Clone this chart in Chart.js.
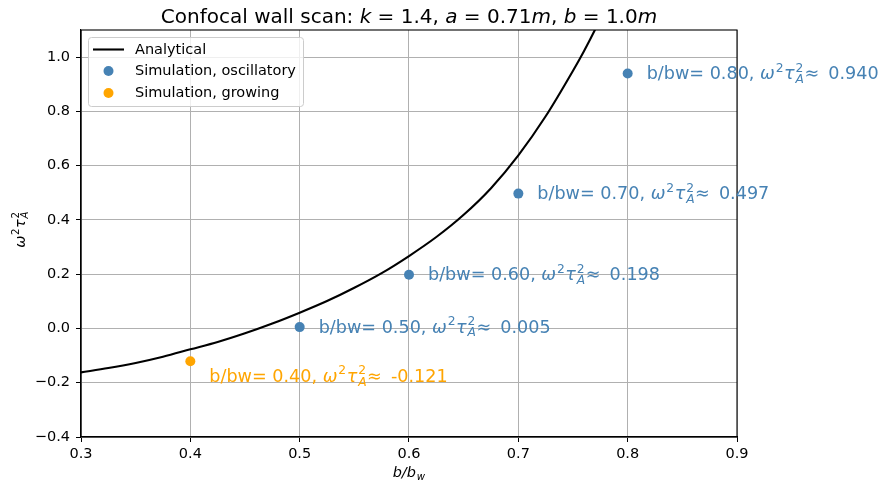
<!DOCTYPE html>
<html>
<head>
<meta charset="utf-8">
<script src="https://cdn.jsdelivr.net/npm/chart.js@4/dist/chart.umd.min.js"></script>
<style>
html,body{margin:0;padding:0;background:#fff;}
#wrap{width:884px;height:488px;position:relative;}
</style>
</head>
<body>
<div id="wrap"><canvas id="c" width="884" height="488"></canvas></div>
<script>
// ---- data ----
const curveX = [0.300,0.325,0.350,0.375,0.400,0.425,0.450,0.475,0.500,0.525,0.550,0.575,0.600,0.625,0.650,0.675,0.700,0.725,0.750,0.760,0.770,0.780];
const curveY = [-0.162,-0.146,-0.127,-0.104,-0.077,-0.050,-0.018,0.018,0.058,0.101,0.150,0.204,0.267,0.337,0.419,0.517,0.638,0.782,0.950,1.022,1.100,1.185];
const oscX = [0.5,0.6,0.7,0.8];
const oscY = [0.005,0.198,0.497,0.940];
const growX = [0.4];
const growY = [-0.121];
const xTicks = [0.3,0.4,0.5,0.6,0.7,0.8,0.9];
const yTicks = [-0.4,-0.2,0.0,0.2,0.4,0.6,0.8,1.0];
const seriesNames = ["Analytical","Simulation, oscillatory","Simulation, growing"];

const BLUE = "#4682B4", ORANGE = "#FFA500";
const FONT = "'DejaVu Sans', 'Liberation Sans', sans-serif";

function pts(xs, ys){ return xs.map((x,i)=>({x:x, y:ys[i]})); }
function fmt(v){ const s = v.toFixed(1); return v < 0 ? "\u2212" + s.slice(1) : s; }
function fmt3(v){ return v.toFixed(3); }

// rich text: runs [{t, it, sup, sub}]
function runWidth(ctx, r, size){
  ctx.font = (r.it ? "italic " : "") + size + "px " + FONT;
  let w = ctx.measureText(r.t).width;
  let extra = 0;
  if (r.sup || r.sub){
    const ss = size*0.7;
    let ws = 0, wb = 0;
    if (r.sup){ ctx.font = ss + "px " + FONT; ws = ctx.measureText(r.sup).width; }
    if (r.sub){ ctx.font = "italic " + ss + "px " + FONT; wb = ctx.measureText(r.sub).width; }
    extra = Math.max(ws, wb) + size*0.08;
  }
  return w + extra;
}
function drawRich(ctx, x, y, runs, size, color, align){
  let total = 0;
  runs.forEach(r => total += runWidth(ctx, r, size));
  let cx = align === "center" ? x - total/2 : x;
  ctx.fillStyle = color;
  ctx.textBaseline = "alphabetic";
  ctx.textAlign = "left";
  runs.forEach(r => {
    ctx.font = (r.it ? "italic " : "") + size + "px " + FONT;
    ctx.fillText(r.t, cx, y);
    const w = ctx.measureText(r.t).width;
    if (r.sup || r.sub){
      const ss = size*0.7;
      const sx = cx + w + size*0.05;
      if (r.sup){ ctx.font = ss + "px " + FONT; ctx.fillText(r.sup, sx, y - size*0.42); }
      if (r.sub){ ctx.font = "italic " + ss + "px " + FONT; ctx.fillText(r.sub, sx, y + size*0.22); }
    }
    cx += runWidth(ctx, r, size);
  });
}
function labelRuns(x, y){
  return [
    {t: "b/bw= " + x.toFixed(2) + ", "},
    {t: "\u03c9", it: true, sup: "2"},
    {t: "\u03c4", it: true, sup: "2", sub: "A"},
    {t: "\u2248\u2009 " + fmt3(y)}
  ];
}

const overlay = {
  id: "overlay",
  afterDraw(chart){
    const ctx = chart.ctx, a = chart.chartArea;
    const xs = chart.scales.x, ys = chart.scales.y;
    ctx.save();
    // frame
    ctx.strokeStyle = "#000"; ctx.lineWidth = 1.1;
    ctx.strokeRect(a.left, a.top, a.right - a.left, a.bottom - a.top);

    // title
    drawRich(ctx, (a.left + a.right)/2, 23, [
      {t: "Confocal wall scan: "}, {t: "k", it: true}, {t: " = 1.4, "},
      {t: "a", it: true}, {t: " = 0.71"}, {t: "m", it: true}, {t: ", "},
      {t: "b", it: true}, {t: " = 1.0"}, {t: "m", it: true}
    ], 20, "#000", "center");

    // x label
    drawRich(ctx, (a.left + a.right)/2, 477, [
      {t: "b/b", it: true, sub: "w"}
    ], 14.5, "#000", "center");
    // y label
    ctx.save();
    ctx.translate(25, (a.top + a.bottom)/2 - 4);
    ctx.rotate(-Math.PI/2);
    drawRich(ctx, 0, 0, [
      {t: "\u03c9", it: true, sup: "2"}, {t: "\u03c4", it: true, sup: "2", sub: "A"}
    ], 14.5, "#000", "center");
    ctx.restore();

    // point annotations
    oscX.forEach((x, i) => {
      const px = xs.getPixelForValue(x), py = ys.getPixelForValue(oscY[i]);
      drawRich(ctx, px + 19, py + 5.5, labelRuns(x, oscY[i]), 17.6, BLUE, "left");
    });
    growX.forEach((x, i) => {
      const px = xs.getPixelForValue(x), py = ys.getPixelForValue(growY[i]);
      drawRich(ctx, px + 19, py + 20.5, labelRuns(x, growY[i]), 17.6, ORANGE, "left");
    });

    // legend
    const lx = 88, ly = 37, lw = 215, lh = 69;
    ctx.globalAlpha = 0.8;
    ctx.fillStyle = "#fff";
    ctx.beginPath(); ctx.roundRect(lx, ly, lw, lh, 3); ctx.fill();
    ctx.globalAlpha = 1;
    ctx.strokeStyle = "#cccccc"; ctx.lineWidth = 1;
    ctx.beginPath(); ctx.roundRect(lx + 0.5, ly + 0.5, lw, lh, 3); ctx.stroke();
    const rows = [49.5, 71, 93];
    ctx.strokeStyle = "#000"; ctx.lineWidth = 2.1;
    ctx.beginPath(); ctx.moveTo(93, rows[0]); ctx.lineTo(124, rows[0]); ctx.stroke();
    ctx.fillStyle = BLUE; ctx.beginPath(); ctx.arc(108.5, rows[1], 5, 0, Math.PI*2); ctx.fill();
    ctx.fillStyle = ORANGE; ctx.beginPath(); ctx.arc(108.5, rows[2], 5, 0, Math.PI*2); ctx.fill();
    ctx.fillStyle = "#000"; ctx.font = "14.5px " + FONT; ctx.textBaseline = "middle"; ctx.textAlign = "left";
    seriesNames.forEach((n, i) => ctx.fillText(n, 135, rows[i] + 0.5));
    ctx.restore();
  }
};

new Chart(document.getElementById("c"), {
  type: "scatter",
  data: {
    datasets: [
      {type: "line", label: seriesNames[0], data: pts(curveX, curveY), borderColor: "#000", borderWidth: 2.1,
       pointRadius: 0, cubicInterpolationMode: "monotone", fill: false, order: 2},
      {label: seriesNames[1], data: pts(oscX, oscY), backgroundColor: BLUE, borderColor: BLUE, pointRadius: 5, borderWidth: 0, order: 1},
      {label: seriesNames[2], data: pts(growX, growY), backgroundColor: ORANGE, borderColor: ORANGE, pointRadius: 5, borderWidth: 0, order: 1}
    ]
  },
  options: {
    responsive: false, animation: false, devicePixelRatio: 1,
    layout: {padding: {left: 0, right: 147, top: 30, bottom: 0}},
    plugins: {legend: {display: false}, title: {display: false}, tooltip: {enabled: false}},
    scales: {
      x: {
        type: "linear", min: 0.3, max: 0.9,
        afterBuildTicks: s => { s.ticks = xTicks.map(v => ({value: v})); },
        afterFit: s => { s.height = 51; },
        ticks: {callback: v => v.toFixed(1), color: "#000", font: {family: FONT, size: 14.5}, padding: 4, maxRotation: 0, autoSkip: false},
        grid: {color: "#b0b0b0", lineWidth: 1, tickColor: "#000", tickLength: 5},
        border: {color: "#000", width: 1.1}
      },
      y: {
        type: "linear", min: -0.4, max: 1.1,
        afterBuildTicks: s => { s.ticks = yTicks.map(v => ({value: v})); },
        afterFit: s => { s.width = 81; },
        ticks: {callback: v => fmt(v), color: "#000", font: {family: FONT, size: 14.5}, padding: 6, autoSkip: false},
        grid: {color: "#b0b0b0", lineWidth: 1, tickColor: "#000", tickLength: 5},
        border: {color: "#000", width: 1.1}
      }
    }
  },
  plugins: [overlay]
});
</script>
</body>
</html>
